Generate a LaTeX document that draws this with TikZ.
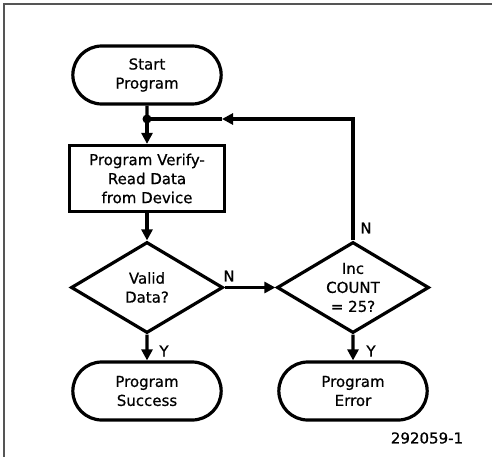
\documentclass[tikz,border=0pt]{standalone}
\usepackage{fontspec}
\setmainfont{DejaVu Sans}
\newfontfamily\plotfont{DejaVu Sans}[FakeBold=0.7]
\usetikzlibrary{shapes.geometric,shapes.misc,arrows.meta}
\definecolor{framegray}{HTML}{555555}

\begin{document}
\begin{tikzpicture}[x=1pt,y=-1pt,line width=3.2pt,
	txt/.style={font=\plotfont\fontsize{15}{19}\selectfont},
	term/.style={txt,rounded rectangle,draw,minimum width=155pt,minimum height=58pt,align=center},
	proc/.style={txt,rectangle,draw,minimum width=155pt,minimum height=66pt,align=center},
	decide/.style={txt,diamond,draw,aspect=1.66,minimum width=152pt,minimum height=91pt,inner sep=0pt,align=center},
	flow/.style={-{Triangle[width=11pt,length=11pt]}}]
	\useasboundingbox (0,0) rectangle (492,457);
	\draw[line width=1.6pt,color=framegray] (4,457) -- (4,4) -- (492,4);
	% boxes
	\node[term] (start) at (147,75) {Start\\Program};
	\node[proc] (verify) at (147,178.5) {Program Verify-\\Read Data\\from Device};
	\node[decide] (valid) at (147,287.5) {Valid\\Data?};
	\node[decide] (count) at (353,287.5) {Inc\\COUNT\\= 25?};
	\node[term] (success) at (147,391) {Program\\Success};
	\node[term] (error) at (353,391) {Program\\Error};
	% flow lines
	\coordinate (junc) at (147,119);
	\coordinate (back) at (222,119);
	\fill (junc) circle (4.5pt);
	\draw (start) -- (junc);
	\draw[flow] (junc) -- (verify);
	\draw[flow] (verify) -- (valid);
	\draw[flow] (valid) -- (count);
	\draw[flow] (valid) -- (success);
	\draw[flow] (count) -- (error);
	\draw[flow] (count.north) |- (back);
	\draw (back) -- (junc);
	% labels
	\node[txt] (n1) at (229,276) {N};
	\node[txt] (n2) at (366,228) {N};
	\node[txt] (y1) at (164,351) {Y};
	\node[txt] (y2) at (371,351) {Y};
	\node[txt] (fig) at (427,438) {292059-1};
\end{tikzpicture}
\end{document}
